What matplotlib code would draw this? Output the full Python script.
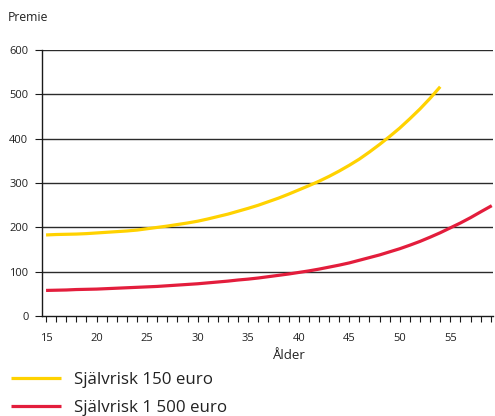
import matplotlib.pyplot as plt
from matplotlib.ticker import MultipleLocator

plt.rcParams['font.family'] = ['Open Sans', 'DejaVu Sans']

# Premie per ålder (ett värde per år)
age_150 = list(range(15, 55))
prem_150 = [183, 184, 184.5, 185, 186, 187.5, 189, 190.5, 192, 194,
            197, 200, 203, 206.5, 210, 214, 219, 224.5, 230, 236.5,
            243, 250, 258, 266, 275, 284.5, 294, 304, 315, 327,
            340, 354, 370, 387, 405, 424, 445, 467, 491, 517]

age_1500 = list(range(15, 59)) + [59.1]
prem_1500 = [58, 58.5, 59, 60, 60.5, 61, 62, 63, 64, 65,
             66, 67, 68.5, 70, 71.5, 73, 75, 77, 79, 81.5,
             83.5, 86, 89, 92, 95, 98.5, 102, 106, 110.5, 115,
             120, 126, 132, 138, 145, 152, 160, 168.5, 178, 188,
             199, 210, 222, 235, 249]

yticks = [0, 100, 200, 300, 400, 500, 600]
xticks = [15, 20, 25, 30, 35, 40, 45, 50, 55]

fig = plt.figure(figsize=(4.95, 4.16), dpi=100)
ax = fig.add_axes([0.0855, 0.240, 0.91, 0.64])

for y in yticks[1:]:
    ax.axhline(y, color='#2b2b2b', lw=1.0, zorder=1)

l1, = ax.plot(age_150, prem_150, color='#ffd200', lw=2.3, solid_capstyle='butt', zorder=3)
l2, = ax.plot(age_1500, prem_1500, color='#e31d3c', lw=2.3, solid_capstyle='butt', zorder=3)

ax.set_xlim(14.63, 59.2)
ax.set_ylim(0, 600)
ax.set_xticks(xticks)
ax.xaxis.set_minor_locator(MultipleLocator(1))
ax.set_yticks(yticks)

for s in ['top', 'right']:
    ax.spines[s].set_visible(False)
ax.spines['left'].set_color('#1a1a1a')
ax.spines['bottom'].set_color('#1a1a1a')
ax.spines['left'].set_linewidth(1.0)
ax.spines['bottom'].set_linewidth(1.0)

ax.tick_params(axis='x', which='major', length=4, width=0.8, color='#1a1a1a',
               labelsize=8, pad=8, labelcolor='#222222')
ax.tick_params(axis='x', which='minor', length=4, width=0.8, color='#1a1a1a')
ax.tick_params(axis='y', length=5, width=0.8, color='#1a1a1a', labelsize=8,
               pad=5, labelcolor='#222222')

fig.text(0.016, 0.958, 'Premie', fontsize=8.8, va='center', ha='left', color='#222222')
fig.text(0.585, 0.146, 'Ålder', fontsize=9.5, va='center', ha='center', color='#222222')

fig.legend([l1, l2], ['Självrisk 150 euro', 'Självrisk 1 500 euro'],
           loc='upper left', bbox_to_anchor=(0.022, 0.106), frameon=False,
           fontsize=12.2, handlelength=2.95, handletextpad=0.75, labelspacing=0.72,
           borderaxespad=0, borderpad=0.0, labelcolor='#222222')

fig.savefig('out.png', dpi=100)
